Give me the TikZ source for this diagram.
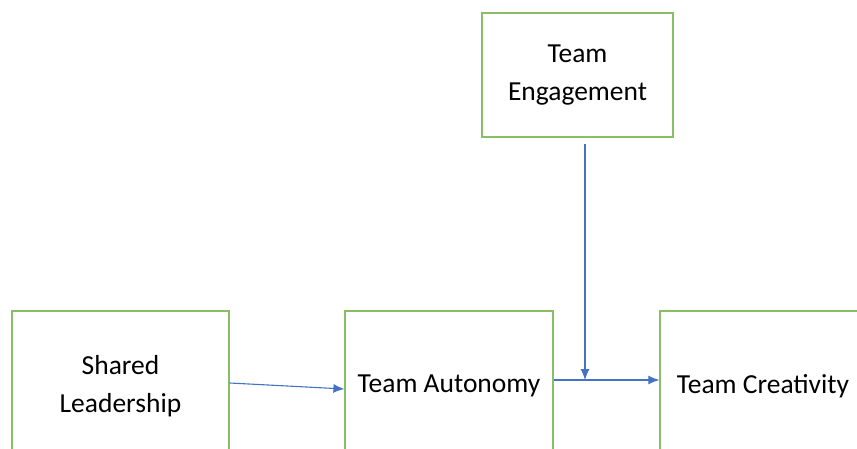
\documentclass[tikz,border=0pt]{standalone}
\usepackage{fontspec}
\setmainfont{Carlito}
\usepackage{tikz}
\usetikzlibrary{calc,arrows.meta,positioning}
\definecolor{boxgreen}{RGB}{137,190,102}
\definecolor{linkblue}{RGB}{68,114,196}
\tikzset{
    factor/.style={
    rectangle,draw=boxgreen,line width=1.2pt,align=center,inner sep=0pt,
    font=\fontsize{27.5}{38}\selectfont
    },
    link/.style={
    color=linkblue,line width=1.1pt,-{Latex[length=11pt,width=9pt]}
    },
}

\begin{document}
\begin{tikzpicture}[x=1pt, y=1pt]
   \useasboundingbox (0,0) rectangle (857,-449);
   \clip (0,0) rectangle (857,-449);
   \node[factor,minimum width=217pt,minimum height=150pt] (SL) at (120.5,-386) {Shared\\Leadership};
   \node[factor,minimum width=208pt,minimum height=150pt] (TA) at (449,-386) {Team Autonomy};
   \node[factor,minimum width=206pt,minimum height=150pt] (TC) at (763,-386) {Team Creativity};
   \node[factor,minimum width=191pt,minimum height=124pt] (TE) at (577.5,-75) {Team\\Engagement};
   \coordinate (m) at (585,-380);

   \draw[link] ([yshift=3pt]SL.east) -- ([yshift=-3pt]TA.west);
   \draw[link] ([yshift=6pt]TA.east) -- ([yshift=6pt]TC.west);
   \draw[link] ([xshift=7.5pt,yshift=-6pt]TE.south) -- (m);
\end{tikzpicture}
\end{document}
